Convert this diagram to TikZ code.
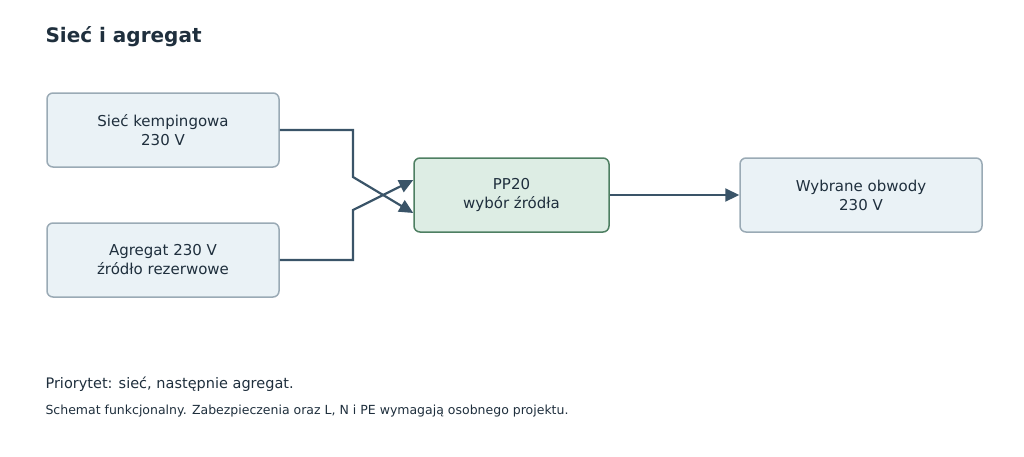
\documentclass[tikz,border=0pt]{standalone}
\usepackage{fontspec}
\setmainfont{DejaVu Sans}
\usetikzlibrary{arrows.meta}
\definecolor{txt}{HTML}{1F2F3D}
\definecolor{bfill}{HTML}{EAF2F6}
\definecolor{bdraw}{HTML}{9AAAB5}
\definecolor{gfill}{HTML}{DDEDE4}
\definecolor{gdraw}{HTML}{4E7F62}
\definecolor{arr}{HTML}{3A5468}
\begin{document}
\begin{tikzpicture}[x=1pt,y=-1pt,
  box/.style={draw=bdraw,fill=bfill,line width=1.5pt,rounded corners=6pt,align=center,text=txt,font=\fontsize{15}{19}\selectfont,inner sep=0pt},
  gbox/.style={box,draw=gdraw,fill=gfill},
  conn/.style={draw=arr,line width=2.2pt,-{Triangle[length=14pt,width=13pt]}}]
\useasboundingbox (0,0) rectangle (1024,456);
\node[anchor=west,text=txt,font=\fontsize{20}{24}\selectfont\bfseries] (title) at (42,37) {Sieć i agregat};
\node[box,minimum width=232pt,minimum height=74pt] (siec) at (163,130) {Sieć kempingowa\\230 V};
\node[box,minimum width=232pt,minimum height=74pt] (agr) at (163,260) {Agregat 230 V\\źródło rezerwowe};
\node[gbox,minimum width=195pt,minimum height=74pt] (pp) at (511.5,195) {PP20\\wybór źródła};
\node[box,minimum width=242pt,minimum height=74pt] (out) at (861,195) {Wybrane obwody\\230 V};
\draw[conn] (siec.east) -- (353,130) -- (353,177) -- ([yshift=-18pt]pp.west);
\draw[conn] (agr.east) -- (353,260) -- (353,210) -- ([yshift=15pt]pp.west);
\draw[conn] (pp.east) -- (out.west);
\node[anchor=west,text=txt,font=\fontsize{14.5}{17}\selectfont] (n1) at (42,384) {Priorytet: sieć, następnie agregat.};
\node[anchor=west,text=txt,font=\fontsize{12.5}{15}\selectfont] (n2) at (42,411) {Schemat funkcjonalny. Zabezpieczenia oraz L, N i PE wymagają osobnego projektu.};
\end{tikzpicture}
\end{document}
